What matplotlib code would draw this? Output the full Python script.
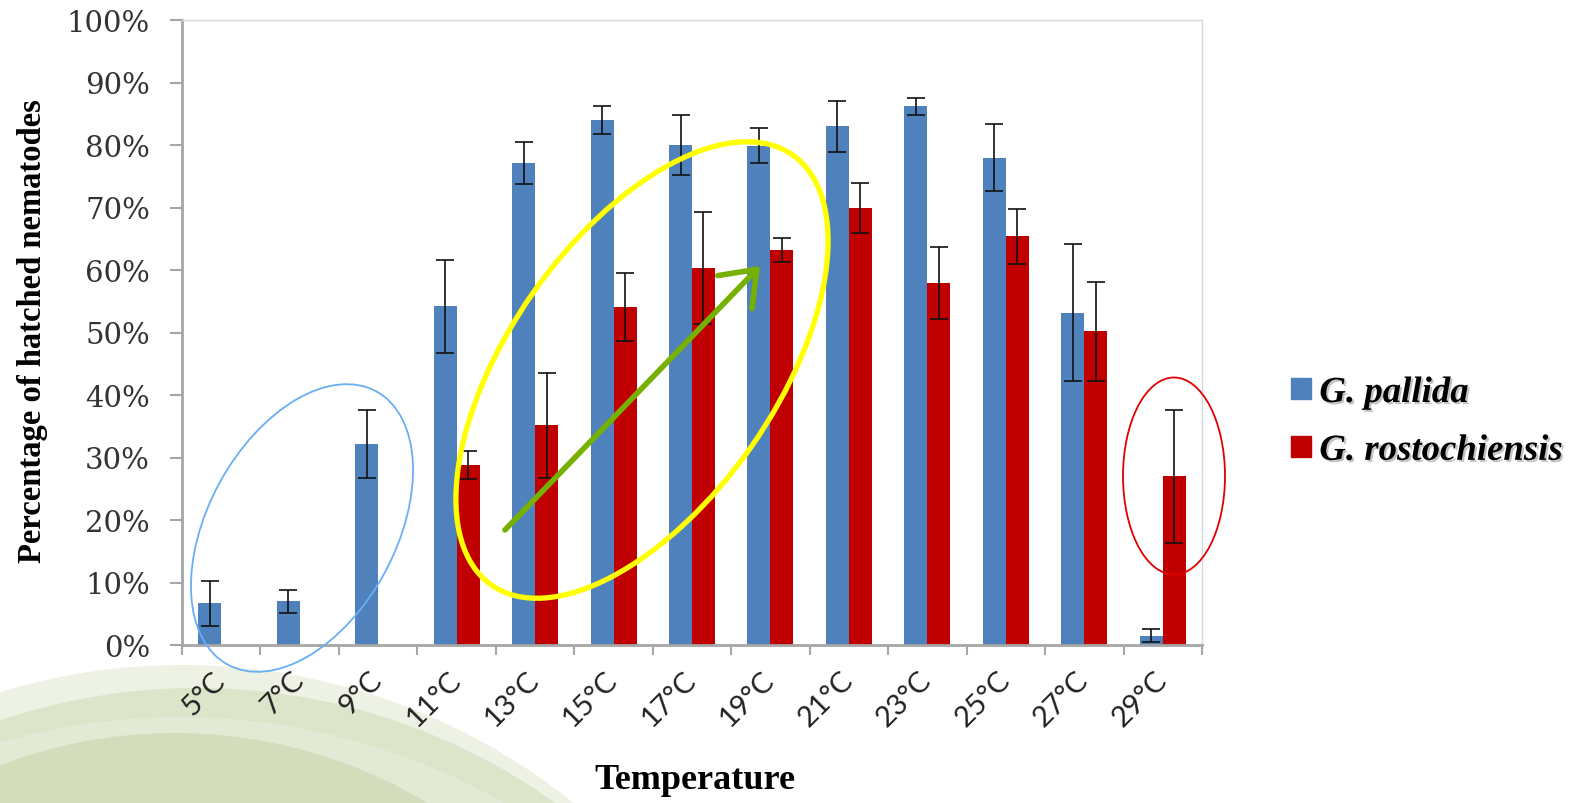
import numpy as np
import matplotlib
matplotlib.use("Agg")
import matplotlib.pyplot as plt
import matplotlib.patches as mpatches
import matplotlib.patheffects as pe

# data
temps = ["5°C", "7°C", "9°C", "11°C", "13°C", "15°C", "17°C",
         "19°C", "21°C", "23°C", "25°C", "27°C", "29°C"]
pallida = [6.7, 7.0, 32.2, 54.2, 77.1, 84.0, 80.0, 79.9, 83.0, 86.2, 78.0, 53.2, 1.5]
pallida_err = [3.6, 1.8, 5.4, 7.4, 3.4, 2.2, 4.8, 2.8, 4.1, 1.4, 5.3, 11.0, 1.0]
rosto = [np.nan, np.nan, np.nan, 28.8, 35.2, 54.1, 60.3, 63.2, 69.9, 57.9, 65.4, 50.2, 27.0]
rosto_err = [np.nan, np.nan, np.nan, 2.3, 8.4, 5.4, 9.0, 1.9, 4.0, 5.8, 4.4, 7.9, 10.6]

blue = "#4F81BD"
red = "#C00000"
W, H = 1579, 804

fig = plt.figure(figsize=(W/100, H/100), dpi=100)

# green slide background arcs (pixel coords, y down)
bg = fig.add_axes([0, 0, 1, 1])
bg.set_xlim(0, W)
bg.set_ylim(H, 0)
bg.axis("off")
bands = [((182, 1291), 625, "#EEF2E4"),
         ((197, 1305), 616, "#DCE4C9"),
         ((180, 1372), 654, "#E3E9D4"),
         ((175, 1225), 491, "#D3DCBB")]
for c, r, col in bands:
    bg.add_patch(mpatches.Circle(c, r, facecolor=col, edgecolor="none"))

ax = fig.add_axes([182/W, 1-646/H, 1020/W, 625/H])
x = np.arange(len(temps))
bw = 0.293
ax.bar(x - bw/2, pallida, bw, color=blue, zorder=2)
ax.bar(x + bw/2, rosto, bw, color=red, zorder=2)
ax.errorbar(x - bw/2, pallida, yerr=pallida_err, fmt="none", ecolor="#111111",
            elinewidth=1.2, capsize=6.8, capthick=1.2, zorder=3)
ax.errorbar(x + bw/2, rosto, yerr=rosto_err, fmt="none", ecolor="#111111",
            elinewidth=1.2, capsize=6.8, capthick=1.2, zorder=3)

ax.set_xlim(-0.5, len(temps) - 0.5)
ax.set_ylim(0, 100)
ax.set_yticks(np.arange(0, 101, 10))
ax.set_yticklabels(["%d%%" % v for v in range(0, 101, 10)],
                   fontfamily="DejaVu Serif", fontsize=21, color="#333333")
ax.tick_params(axis="y", length=9, width=1.5, color="#A6A6A6", pad=14)

ax.set_xticks(x)
ax.set_xticklabels(temps, rotation=45, ha="right", va="center", rotation_mode="anchor",
                   fontfamily="Lato", fontsize=21, color="#222222")
ax.tick_params(axis="x", which="major", length=0, pad=22)
ax.set_xticks(np.arange(-0.5, len(temps), 1), minor=True)
ax.tick_params(axis="x", which="minor", length=7, width=1.5, color="#A6A6A6")

for s in ["left", "bottom"]:
    ax.spines[s].set_color("#A6A6A6")
    ax.spines[s].set_linewidth(2)
for s in ["top", "right"]:
    ax.spines[s].set_color("#D9D9D9")
    ax.spines[s].set_linewidth(1)

fig.text(33/W, 1-331/H, "Percentage of hatched nematodes", rotation=90,
         ha="center", va="center", fontfamily="Liberation Serif",
         fontweight="bold", fontsize=23.5)
fig.text(695/W, 1-781/H, "Temperature", ha="center", va="center",
         fontfamily="Liberation Serif", fontweight="bold", fontsize=26)

handles = [mpatches.Patch(color=blue), mpatches.Patch(color=red)]
leg = fig.legend(handles, ["G. pallida", "G. rostochiensis"], loc="upper left",
                 bbox_to_anchor=(1291/W, 1-376/H), frameon=False, borderpad=0,
                 borderaxespad=0, handlelength=0.55, handleheight=0.5,
                 handletextpad=0.22, labelspacing=0.62,
                 prop={"family": "Liberation Serif", "weight": "bold",
                       "style": "italic", "size": 26.5})
for t in leg.get_texts():
    t.set_path_effects([pe.SimplePatchShadow(offset=(1.5, -1.5), shadow_rgbFace="#888888",
                                             alpha=0.5), pe.Normal()])

# highlight marks drawn on top (pixel coords, y down)
ov = fig.add_axes([0, 0, 1, 1])
ov.set_xlim(0, W)
ov.set_ylim(H, 0)
ov.axis("off")
ov.patch.set_visible(False)
ov.add_patch(mpatches.Ellipse((302, 529), 311, 188, angle=-61.5, fill=False,
                              edgecolor="#6AAEF5", lw=1.3))
ov.add_patch(mpatches.Ellipse((642, 371), 525, 267, angle=-55, fill=False,
                              edgecolor="#FFFF00", lw=3.8))
ov.add_patch(mpatches.Ellipse((1174, 477), 102, 197, angle=0, fill=False,
                              edgecolor="#E00000", lw=1.3))
ov.add_patch(mpatches.FancyArrowPatch((503, 533), (762, 265),
                                      arrowstyle="->,head_length=0.6,head_width=0.45",
                                      mutation_scale=38, color="#76B000", lw=4))

fig.savefig("out.png", dpi=100)
